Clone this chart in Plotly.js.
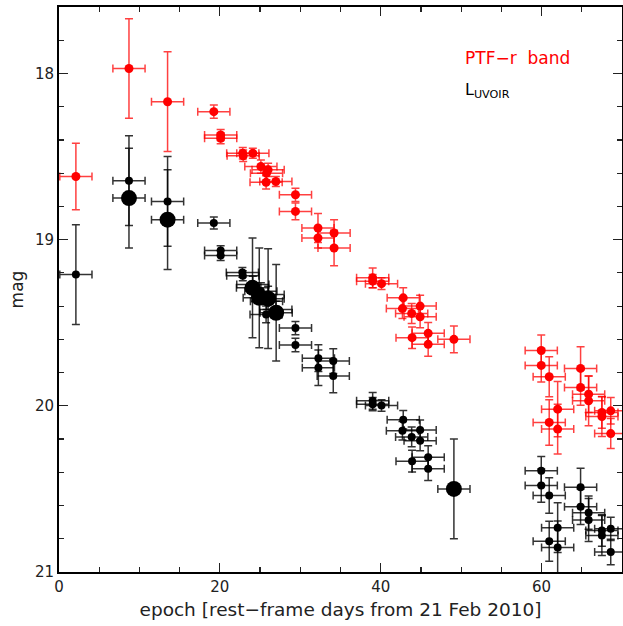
<!DOCTYPE html>
<html>
<head>
<meta charset="utf-8">
<script src="https://cdn.plot.ly/plotly-3.0.1.min.js"></script>
<style>html,body{margin:0;padding:0;background:#fff;}#plot{width:623px;height:626px;}</style>
</head>
<body>
<div id="plot"></div>
<script>
// PTF-r band (red)
const redX = [2.1, 8.7, 13.5, 19.25, 20.1, 20.1, 22.85, 22.9, 24.1, 25.1, 26.0, 25.8, 25.75, 26.96, 29.4, 29.4, 32.2, 32.2, 34.2, 34.2, 39.0, 39.0, 40.1, 42.8, 42.7, 43.85, 44.9, 44.9, 43.9, 45.9, 45.9, 49.1, 59.96, 59.96, 60.95, 62.0, 60.95, 62.0, 64.85, 64.85, 65.85, 65.85, 67.5, 67.5, 68.6, 68.6];
const redY = [18.62, 17.97, 18.17, 18.23, 18.37, 18.39, 18.48, 18.495, 18.48, 18.56, 18.58, 18.60, 18.655, 18.65, 18.73, 18.83, 18.93, 18.99, 18.96, 19.05, 19.23, 19.25, 19.265, 19.35, 19.415, 19.444, 19.40, 19.464, 19.59, 19.564, 19.63, 19.60, 19.667, 19.757, 19.825, 20.02, 20.10, 20.14, 19.775, 19.89, 19.93, 19.97, 20.04, 20.064, 20.03, 20.167];
const redYerr = [0.20, 0.30, 0.30, 0.04, 0.033, 0.033, 0.035, 0.035, 0.03, 0.04, 0.04, 0.04, 0.04, 0.03, 0.04, 0.05, 0.087, 0.06, 0.08, 0.107, 0.06, 0.04, 0.035, 0.06, 0.06, 0.06, 0.066, 0.066, 0.065, 0.066, 0.072, 0.08, 0.093, 0.10, 0.12, 0.166, 0.137, 0.15, 0.13, 0.107, 0.11, 0.15, 0.095, 0.12, 0.08, 0.09];

// L_UVOIR (black, small markers)
const blkX = [2.1, 8.7, 13.5, 19.25, 20.1, 20.1, 22.8, 22.85, 24.1, 25.1, 26.0, 25.8, 25.75, 26.96, 29.4, 29.4, 32.25, 32.25, 34.1, 34.1, 39.0, 39.0, 40.1, 42.8, 42.7, 44.9, 43.85, 44.9, 45.9, 43.9, 45.9, 59.96, 59.96, 60.95, 62.0, 60.95, 62.0, 64.85, 64.85, 65.85, 65.85, 67.5, 67.5, 68.6, 68.6];
const blkY = [19.21, 18.645, 18.77, 18.90, 19.066, 19.096, 19.197, 19.217, 19.27, 19.31, 19.33, 19.37, 19.45, 19.42, 19.532, 19.634, 19.713, 19.771, 19.731, 19.821, 19.97, 19.99, 19.998, 20.084, 20.15, 20.146, 20.187, 20.21, 20.31, 20.333, 20.378, 20.39, 20.48, 20.54, 20.733, 20.815, 20.853, 20.49, 20.607, 20.643, 20.687, 20.75, 20.78, 20.74, 20.88];
const blkYerr = [0.30, 0.27, 0.27, 0.036, 0.03, 0.03, 0.03, 0.03, 0.05, 0.05, 0.05, 0.05, 0.05, 0.05, 0.04, 0.04, 0.08, 0.107, 0.075, 0.10, 0.05, 0.04, 0.035, 0.056, 0.056, 0.06, 0.06, 0.06, 0.07, 0.065, 0.072, 0.085, 0.10, 0.107, 0.15, 0.12, 0.16, 0.115, 0.107, 0.10, 0.13, 0.095, 0.12, 0.07, 0.077];

// L_UVOIR (black, large markers)
const bigX = [8.7, 13.5, 24.06, 24.9, 26.0, 27.0, 49.1];
const bigY = [18.75, 18.88, 19.29, 19.35, 19.355, 19.44, 20.5];
const bigYerr = [0.30, 0.30, 0.30, 0.30, 0.30, 0.29, 0.30];

const epochErr = 2.0; // days, horizontal error

const xTickVals = [0, 20, 40, 60];
const yTickVals = [18, 19, 20, 21];

const FONT = 'DejaVu Sans, sans-serif';

function errs(arr, col) {
  return {type: 'data', array: arr, visible: true, color: col, thickness: 1.5, width: 4};
}
function xerr(col) {
  return {type: 'constant', value: epochErr, visible: true, color: col, thickness: 1.5, width: 4};
}

const traces = [
  {x: redX, y: redY, type: 'scatter', mode: 'markers',
   marker: {color: '#ff0000', size: 9, line: {width: 0}},
   error_y: errs(redYerr, 'rgba(255,0,0,0.75)'), error_x: xerr('rgba(255,0,0,0.75)')},
  {x: blkX, y: blkY, type: 'scatter', mode: 'markers',
   marker: {color: '#000000', size: 8, line: {width: 0}},
   error_y: errs(blkYerr, 'rgba(0,0,0,0.8)'), error_x: xerr('rgba(0,0,0,0.8)')},
  {x: bigX, y: bigY, type: 'scatter', mode: 'markers',
   marker: {color: '#000000', size: 16, line: {width: 0}},
   error_y: errs(bigYerr, 'rgba(0,0,0,0.8)'), error_x: xerr('rgba(0,0,0,0.8)')}
];

const layout = {
  width: 623, height: 626,
  margin: {l: 59, r: 1, t: 7, b: 54},
  paper_bgcolor: '#fff', plot_bgcolor: '#fff',
  showlegend: false,
  font: {family: FONT, color: '#222', size: 15},
  xaxis: {
    range: [0, 70], tickvals: xTickVals, ticktext: xTickVals.map(String),
    ticks: 'inside', ticklen: 9, tickwidth: 1.2, tickcolor: '#222',
    minor: {dtick: 5, tick0: 0, ticks: 'inside', ticklen: 5, tickwidth: 1.2, tickcolor: '#222', showgrid: false},
    showline: true, linewidth: 2, linecolor: '#000', mirror: 'ticks',
    showgrid: false, zeroline: false,
    tickfont: {family: FONT, size: 15, color: '#222'},
    title: {text: 'epoch [rest\u2212frame days from 21 Feb 2010]', font: {family: FONT, size: 18.5, color: '#222'}, standoff: 8}
  },
  yaxis: {
    range: [21, 17.6], tickvals: yTickVals, ticktext: yTickVals.map(String),
    ticks: 'inside', ticklen: 9, tickwidth: 1.2, tickcolor: '#222',
    minor: {dtick: 0.2, tick0: 17, ticks: 'inside', ticklen: 5, tickwidth: 1.2, tickcolor: '#222', showgrid: false},
    showline: true, linewidth: 2, linecolor: '#000', mirror: 'ticks',
    showgrid: false, zeroline: false,
    tickfont: {family: FONT, size: 15, color: '#222'},
    title: {text: 'mag', font: {family: FONT, size: 17, color: '#222'}, standoff: 7}
  },
  annotations: [
    {xref: 'x', yref: 'y', x: 50.2, y: 17.905, xanchor: 'left', yanchor: 'middle', showarrow: false,
     text: 'PTF\u2212r  band', font: {family: FONT, size: 17, color: '#ff0000'}},
    {xref: 'x', yref: 'y', x: 50.2, y: 18.1, xanchor: 'left', yanchor: 'middle', showarrow: false,
     text: 'L<sub>UVOIR</sub>', font: {family: FONT, size: 16, color: '#000'}}
  ]
};

Plotly.newPlot('plot', traces, layout, {displayModeBar: false, staticPlot: true});
</script>
</body>
</html>
